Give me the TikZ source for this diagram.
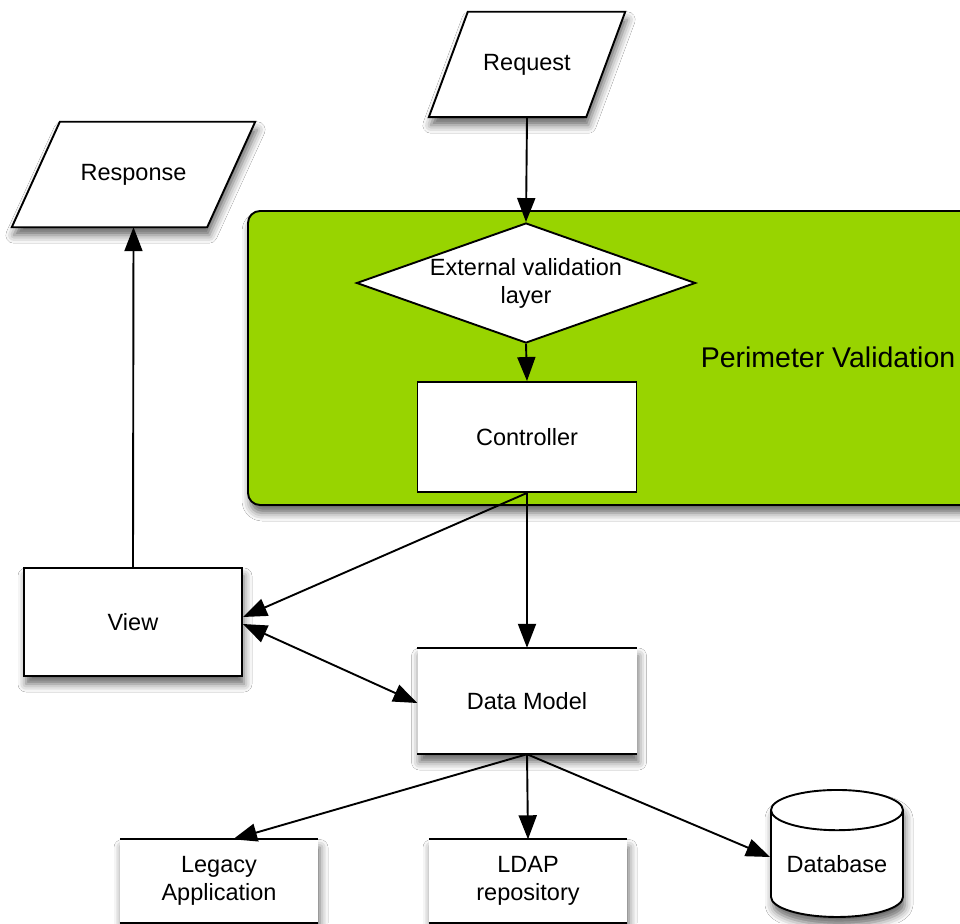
\documentclass[tikz,border=0pt]{standalone}
\usepackage{fontspec}
\setmainfont{Liberation Sans}
\usetikzlibrary{shapes.geometric,arrows.meta,shadows.blur,calc}
\definecolor{pgreen}{RGB}{152,212,0}
\begin{document}
\begin{tikzpicture}[x=1pt,y=-1pt,
  every node/.style={font=\fontsize{23.5}{28}\selectfont},
  shad/.style={blur shadow={shadow xshift=2pt, shadow yshift=-8pt, shadow blur radius=8pt, shadow opacity=60}},
  lw/.style={line width=1.9pt},
  box/.style={draw, lw, fill=white, inner sep=0pt, align=center},
  openbox/.style={fill=white, inner sep=0pt, align=center, shad},
  paratext/.style={inner sep=0pt},
  parashape/.style={draw, lw, fill=white, line join=miter, shad},
  arr/.style={lw, -{Triangle[length=24pt,width=18pt,fill=black]}},
  darr/.style={lw, {Triangle[length=24pt,width=18pt,fill=black]}-{Triangle[length=24pt,width=18pt,fill=black]}},
]
\useasboundingbox (0,0) rectangle (960,923);
\clip (0,0) rectangle (960,923);
\fill[white] (0,0) rectangle (960,923);

% perimeter
\node (perim) [rectangle, draw, lw, fill=pgreen, rounded corners=12pt, minimum width=740pt, minimum height=294pt, shad] at (618,358) {};
\node (ptext) [font=\fontsize{28.5}{34}\selectfont] at (828,357) {Perimeter Validation};

% top parallelograms
\node (req) [paratext, minimum width=196pt, minimum height=105pt] at (527,64.5) {};
\path[parashape] ($(req.north west)+(39,0)$) -- (req.north east) -- ($(req.south east)+(-39,0)$) -- (req.south west) -- cycle;
\node at (req.center) {Request};
\node (resp) [paratext, minimum width=243pt, minimum height=105pt] at (133.5,174.5) {};
\path[parashape] ($(resp.north west)+(48,0)$) -- (resp.north east) -- ($(resp.south east)+(-48,0)$) -- (resp.south west) -- cycle;
\node at (resp.center) {Response};

\node (evl) [diamond, draw, lw, fill=white, minimum width=339pt, minimum height=120pt, aspect=2.825, inner sep=0pt,
  label={[align=center, font=\fontsize{23.5}{28}\selectfont]center:External validation\\layer}] at (526,283) {};

\node (ctrl) [box, minimum width=219pt, minimum height=110pt] at (527,437) {Controller};
\node (view) [box, shad, minimum width=218pt, minimum height=108pt] at (133,622) {View};
\node (dm) [openbox, minimum width=219pt, minimum height=106pt] at (527,701) {Data Model};
\draw[lw] (dm.north west) -- (dm.north east) (dm.south west) -- (dm.south east);

\node (leg) [openbox, minimum width=198pt, minimum height=83pt] at (219,881) {Legacy\\Application};
\draw[lw] (leg.north west) -- (leg.north east) (leg.south west) -- (leg.south east);
\node (ldap) [openbox, minimum width=198pt, minimum height=83pt] at (528,881) {LDAP\\repository};
\draw[lw] (ldap.north west) -- (ldap.north east) (ldap.south west) -- (ldap.south east);

\node (db) [cylinder, shape border rotate=90, draw, lw, fill=white, aspect=0.4, minimum width=132pt, minimum height=127pt, inner sep=0pt, shad] at (837,864) {Database};

% connectors
\draw[arr] (req.south) -- (evl.north);
\draw[arr] (evl.south) -- (ctrl.north);
\draw[arr] (ctrl.south) -- (dm.north);
\draw[arr] (ctrl.south) -- ($(view.east)+(0,-5)$);
\draw[darr] ($(view.east)+(0,2)$) -- ($(dm.west)+(0,2)$);
\draw[arr] (view.north) -- (resp.south);
\draw[arr] (dm.south) -- ($(leg.north)+(14,0)$);
\draw[arr] (dm.south) -- (ldap.north);
\draw[arr] (dm.south) -- ($(db.west)+(0,-7)$);
\end{tikzpicture}
\end{document}
